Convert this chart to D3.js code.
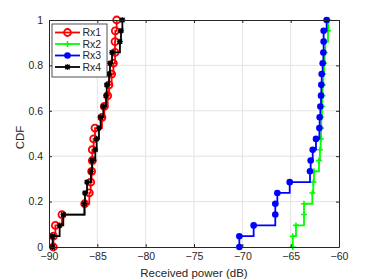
<!DOCTYPE html>
<html>
<head>
<meta charset="utf-8">
<script src="https://cdn.jsdelivr.net/npm/d3@7"></script>
<style>
  body { margin: 0; background: #fff; }
  text { font-family: "Liberation Sans", Arial, sans-serif; fill: #262626; }
</style>
</head>
<body>
<div id="chart"></div>
<script>
// ===================== DATA =====================
// sorted received power samples (dB), one per receiver
const rx1 = [-89.55, -89.34, -88.66, -86.31, -85.83, -85.69, -85.59, -85.52, -85.52, -85.38, -85.24,
             -84.52, -84.28, -83.93, -83.79, -83.52, -83.34, -83.17, -83.17, -83.14, -83.0];
const rx2 = [-64.79, -64.45, -63.62, -63.62, -62.76, -62.66, -62.59, -62.07, -61.97, -61.9, -61.86,
             -61.83, -61.76, -61.72, -61.69, -61.62, -61.55, -61.48, -61.41, -61.14, -61.1];
const rx3 = [-70.31, -68.83, -66.59, -66.59, -66.38, -65.1, -63.0, -62.93, -62.72, -62.38, -62.03,
             -62.0, -61.93, -61.86, -61.83, -61.79, -61.69, -61.62, -61.59, -61.59, -61.28];
const rx4 = [-89.62, -88.9, -88.52, -86.34, -86.28, -86.07, -85.66, -85.55, -85.21, -85.07, -84.83,
             -84.66, -84.38, -84.1, -84.03, -83.79, -83.69, -83.48, -82.66, -82.55, -82.41];

const seriesNames = ["Rx1", "Rx2", "Rx3", "Rx4"];
const xTicks = [-90, -85, -80, -75, -70, -65, -60];
const yTicks = [0, 0.2, 0.4, 0.6, 0.8, 1];

// ===================== CHART =====================
const width = 374, height = 280;
const margin = { left: 49, right: 35, top: 20, bottom: 33 };
const w = width - margin.left - margin.right;
const h = height - margin.top - margin.bottom;

const series = [
  { name: seriesNames[0], data: rx1, color: "#ff0000", marker: "circle" },
  { name: seriesNames[1], data: rx2, color: "#00ff00", marker: "plus" },
  { name: seriesNames[2], data: rx3, color: "#0000ff", marker: "dot" },
  { name: seriesNames[3], data: rx4, color: "#000000", marker: "star" }
];

const svg = d3.select("#chart").append("svg")
  .attr("width", width)
  .attr("height", height);

const g = svg.append("g").attr("transform", `translate(${margin.left},${margin.top})`);

const x = d3.scaleLinear().domain([-90, -60]).range([0, w]);
const y = d3.scaleLinear().domain([0, 1]).range([h, 0]);

// grid
g.append("g").selectAll("line").data(xTicks.slice(1, -1)).enter().append("line")
  .attr("x1", d => x(d)).attr("x2", d => x(d))
  .attr("y1", 0).attr("y2", h)
  .attr("stroke", "#e3e3e3");
g.append("g").selectAll("line").data(yTicks.slice(1, -1)).enter().append("line")
  .attr("x1", 0).attr("x2", w)
  .attr("y1", d => y(d)).attr("y2", d => y(d))
  .attr("stroke", "#e3e3e3");

// empirical cdf points: (s1,0), (si, i/n)
function cdfPoints(arr) {
  const n = arr.length;
  const pts = [[arr[0], 0]];
  arr.forEach((v, i) => pts.push([v, (i + 1) / n]));
  return pts;
}

const line = d3.line()
  .x(d => x(d[0]))
  .y(d => y(d[1]))
  .curve(d3.curveStepAfter);

function drawMarker(sel, type, color) {
  if (type === "circle") {
    sel.append("circle").attr("r", 3.5).attr("fill", "none")
      .attr("stroke", color).attr("stroke-width", 1.8);
  } else if (type === "dot") {
    sel.append("circle").attr("r", 3.3).attr("fill", color);
  } else if (type === "plus") {
    sel.append("path").attr("d", "M-3,0H3M0,-3V3")
      .attr("stroke", color).attr("stroke-width", 1.6);
  } else if (type === "star") {
    sel.append("path").attr("d", "M-2.8,0H2.8M0,-2.8V2.8M-2.2,-2.2L2.2,2.2M-2.2,2.2L2.2,-2.2")
      .attr("stroke", color).attr("stroke-width", 1.4);
  }
}

series.forEach(s => {
  const pts = cdfPoints(s.data);
  g.append("path")
    .datum(pts)
    .attr("d", line)
    .attr("fill", "none")
    .attr("stroke", s.color)
    .attr("stroke-width", 1.8);
  const m = g.append("g").selectAll("g").data(pts).enter().append("g")
    .attr("transform", d => `translate(${x(d[0])},${y(d[1])})`);
  drawMarker(m, s.marker, s.color);
});

// axes (box with inward ticks)
const axisColor = "#262626";
function styleAxis(sel) {
  sel.select(".domain").attr("stroke", axisColor);
  sel.selectAll(".tick line").attr("stroke", axisColor);
  sel.selectAll(".tick text").attr("fill", axisColor)
    .style("font-family", "'Liberation Sans', Arial, sans-serif")
    .style("font-size", "10.5px");
}

g.append("g").attr("transform", `translate(0,${h})`)
  .call(d3.axisBottom(x).tickValues(xTicks).tickSizeInner(-3).tickSizeOuter(0).tickPadding(6))
  .call(styleAxis);
g.append("g")
  .call(d3.axisTop(x).tickValues(xTicks).tickSizeInner(-3).tickSizeOuter(0).tickFormat(""))
  .call(styleAxis);
g.append("g")
  .call(d3.axisLeft(y).tickValues(yTicks).tickSizeInner(-3).tickSizeOuter(0).tickPadding(6)
    .tickFormat(d => d3.format("")(d)))
  .call(styleAxis);
g.append("g").attr("transform", `translate(${w},0)`)
  .call(d3.axisRight(y).tickValues(yTicks).tickSizeInner(-3).tickSizeOuter(0).tickFormat(""))
  .call(styleAxis);

// labels
svg.append("text")
  .attr("x", margin.left + w / 2).attr("y", 277)
  .attr("text-anchor", "middle")
  .style("font-size", "11.5px")
  .text("Received power (dB)");
svg.append("text")
  .attr("transform", `translate(24,${margin.top + h / 2 + 4}) rotate(-90)`)
  .attr("text-anchor", "middle")
  .style("font-size", "11.5px")
  .text("CDF");

// legend
const lg = svg.append("g").attr("transform", "translate(52,24)");
lg.append("rect").attr("width", 55).attr("height", 53)
  .attr("fill", "#fff").attr("stroke", axisColor).attr("stroke-width", 0.8);
const items = lg.selectAll("g.item").data(series).enter().append("g")
  .attr("transform", (d, i) => `translate(0,${8.5 + i * 11.5})`);
items.append("line").attr("x1", 3).attr("x2", 28)
  .attr("stroke", d => d.color).attr("stroke-width", 1.8);
items.each(function(d) {
  const mk = d3.select(this).append("g").attr("transform", "translate(15.5,0)");
  drawMarker(mk, d.marker, d.color);
});
items.append("text").attr("x", 30.5).attr("y", 3.5)
  .style("font-size", "10.5px")
  .text(d => d.name);
</script>
</body>
</html>
